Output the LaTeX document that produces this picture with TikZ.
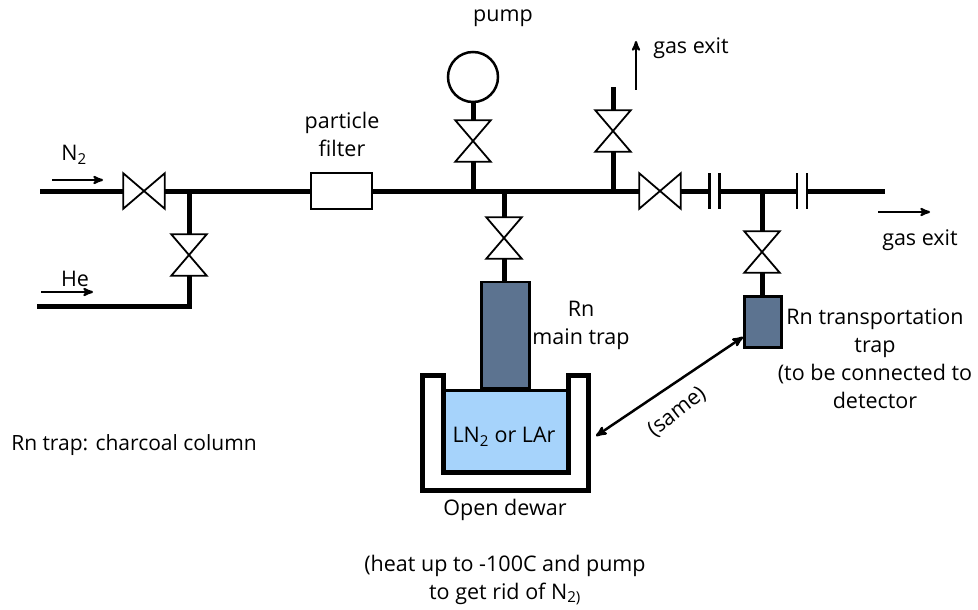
\documentclass[tikz,border=0pt]{standalone}
\usepackage{fontspec}
\setmainfont{Open Sans}
\usetikzlibrary{arrows,positioning}
\definecolor{trapblue}{HTML}{5C7390}
\definecolor{liquidblue}{HTML}{A6D3FB}
\newcommand{\labelfont}{\fontsize{21.5}{28}\selectfont}

\begin{document}
\begin{tikzpicture}[x=1pt,y=-1pt,>=stealth',
pipe/.style={line width=5pt},
flow/.style={->,line width=2.2pt},
thin line/.style={line width=1.8pt},
hvalve/.style={rectangle,inner sep=0pt,minimum width=41pt,minimum height=35pt},
vvalve/.style={rectangle,inner sep=0pt,minimum width=35pt,minimum height=41pt},
flange/.style={rectangle,inner sep=0pt,minimum width=10pt,minimum height=35pt},
trap/.style={rectangle,draw=black,line width=2.5pt,fill=trapblue,inner sep=0pt},
txt/.style={inner sep=0pt,font=\labelfont,align=center}]
\useasboundingbox (0,0) rectangle (978,610);

% open dewar and liquid
\fill[liquidblue] (443,390) rectangle (568,472);
\draw[line width=3pt] (443,390) -- (568,390);
\draw[line width=5pt,miter limit=10] (422,375) -- (422,490) -- (588,490) -- (588,375) -- (568,375) -- (568,472) -- (443,472) -- (443,375) -- cycle;

% valves, filter, pump, traps
\node[hvalve] (n2valve) at (144,191) {};
\node[vvalve] (hevalve) at (189,255) {};
\node[vvalve] (pumpvalve) at (473,141) {};
\node[vvalve] (mainvalve) at (504,238) {};
\node[vvalve] (exitvalve) at (613,131) {};
\node[hvalve] (linevalve) at (660,191) {};
\node[vvalve] (transvalve) at (762,252) {};
\node[flange] (flangea) at (714.5,191) {};
\node[flange] (flangeb) at (802,191) {};
\node[rectangle,draw,line width=2.5pt,fill=white,minimum width=61pt,minimum height=36pt,inner sep=0pt] (filter) at (341.5,191) {};
\node[circle,draw,line width=2.5pt,minimum size=50pt,inner sep=0pt] (pump) at (473,77) {};
\node[trap,minimum width=48pt,minimum height=106pt] (maintrap) at (505.5,335) {};
\node[trap,minimum width=37pt,minimum height=51pt] (transtrap) at (763,322) {};

% free ends and junctions
\coordinate (n2in) at (40,191);
\coordinate (hein) at (37,306);
\coordinate (hecorner) at (189,306);
\coordinate (jhe) at (189,191);
\coordinate (jpump) at (473,191);
\coordinate (jmain) at (504,191);
\coordinate (jexit) at (613,191);
\coordinate (jtrans) at (762,191);
\coordinate (lineend) at (885,191);
\coordinate (exitend) at (613,87);

% pipes
\draw[pipe] (n2in) -- (n2valve.west);
\draw[pipe] (n2valve.east) -- (filter.west);
\draw[pipe] (filter.east) -- (linevalve.west);
\draw[pipe] (linevalve.east) -- (flangea.west);
\draw[pipe] (flangea.east) -- (flangeb.west);
\draw[pipe] (flangeb.east) -- (lineend);
\draw[pipe] (hein) -- (hecorner) -- (hevalve.south);
\draw[pipe] (hevalve.north) -- (jhe);
\draw[pipe] (pump) -- (pumpvalve.north);
\draw[pipe] (pumpvalve.south) -- (jpump);
\draw[pipe] (jmain) -- (mainvalve.north);
\draw[pipe] (mainvalve.south) -- (maintrap.north -| mainvalve.south);
\draw[pipe] (jexit) -- (exitvalve.south);
\draw[pipe] (exitvalve.north) -- (exitend);
\draw[pipe] (jtrans) -- (transvalve.north);
\draw[pipe] (transvalve.south) -- (transtrap.north -| transvalve.south);

% symbols
\foreach \v in {n2valve,linevalve}
\draw[thin line,fill=white] (\v.north west) -- (\v.south east) -- (\v.north east) -- (\v.south west) -- cycle;
\foreach \v in {hevalve,pumpvalve,mainvalve,exitvalve,transvalve}
\draw[thin line,fill=white] (\v.north west) -- (\v.north east) -- (\v.south west) -- (\v.south east) -- cycle;
\foreach \v in {flangea,flangeb} {
\draw[line width=2.5pt] (\v.north west) -- (\v.south west);
\draw[line width=2.5pt] (\v.north east) -- (\v.south east);
}

% flow arrows
\coordinate (n2a) at (52,180);
\coordinate (n2b) at (103,180);
\coordinate (hea) at (41,292);
\coordinate (heb) at (93,292);
\coordinate (upa) at (636,90);
\coordinate (upb) at (636,41);
\coordinate (outa) at (878,212);
\coordinate (outb) at (930,212);
\draw[flow] (n2a) -- (n2b);
\draw[flow] (hea) -- (heb);
\draw[flow] (upa) -- (upb);
\draw[flow] (outa) -- (outb);
\coordinate (samea) at (596,436);
\coordinate (sameb) at (743,337);
\draw[<->,line width=2.5pt] (samea) -- (sameb);

% labels
\node[txt] (n2text) at (74,155) {N\textsubscript{2}};
\node[txt] (hetext) at (75,279) {He};
\node[txt] (filtertext) at (342,134) {particle\\filter};
\node[txt] (pumptext) at (503,18) {pump};
\node[txt] (exittext) at (691,48) {gas exit};
\node[txt] (outtext) at (920,240) {gas exit};
\node[txt] (maintext) at (581,325) {Rn\\main trap};
\node[txt] (transtext) at (875,359) {Rn transportation\\trap\\(to be connected to\\detector};
\node[txt] (coltext) at (134,445) {\fontsize{21}{28}\selectfont Rn trap: charcoal column};
\node[txt] (lntext) at (504,437) {LN\textsubscript{2} or LAr};
\node[txt] (dewartext) at (505,510) {Open dewar};
\node[txt] (heattext) at (505,580) {(heat up to -100C and pump\\to get rid of N\textsubscript{2)}};
\node[txt,rotate=38] (sametext) at (677,412) {(same)};
\end{tikzpicture}
\end{document}
